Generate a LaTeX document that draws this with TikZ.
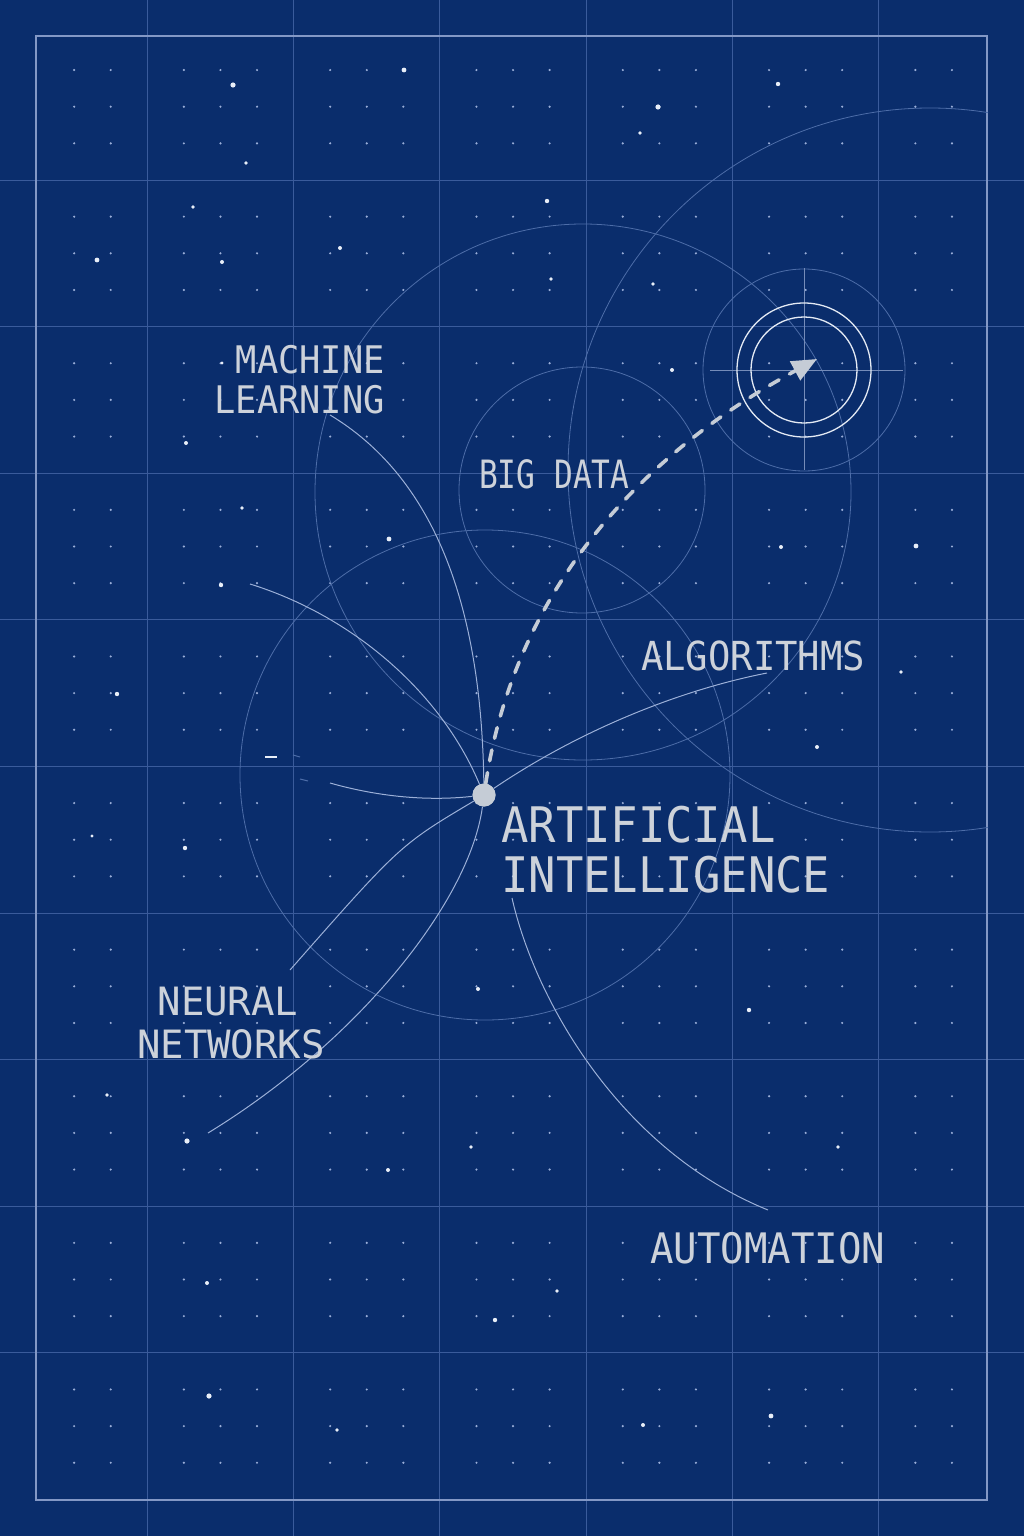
\documentclass[tikz,border=0pt]{standalone}
\usepackage{fontspec}
\usetikzlibrary{arrows.meta}
\newfontfamily\lblfont[FakeStretch=0.93]{DejaVu Sans Mono}
\newfontfamily\narrowfont[FakeStretch=0.80]{DejaVu Sans Mono}
\newfontfamily\widefont{DejaVu Sans Mono}
\definecolor{bgcol}{HTML}{0A2D6C}
\definecolor{gridcol}{HTML}{3A5B9B}
\definecolor{framecol}{HTML}{8398C6}
\definecolor{circcol}{HTML}{4D6DA8}
\definecolor{conncol}{HTML}{9CB0D8}
\definecolor{dotcol}{HTML}{9AAED8}
\definecolor{starcol}{HTML}{E8EEF8}
\definecolor{txtcol}{HTML}{CDD2DA}
\definecolor{dashcol}{HTML}{C5CCD6}
\definecolor{ringcol}{HTML}{E4EAF4}
\begin{document}
\begin{tikzpicture}[x=1pt,y=-1pt,
  gridline/.style={draw=gridcol, line width=1pt},
  frameline/.style={draw=framecol, line width=1.4pt},
  faint/.style={draw=circcol, line width=0.8pt},
  conn/.style={draw=conncol, line width=1pt},
  ring/.style={draw=ringcol, line width=1.3pt},
  hub/.style={circle, fill=dashcol, minimum size=23pt, inner sep=0pt},
  dasharrow/.style={draw=dashcol, line width=3.6pt, line cap=round, dash pattern=on 11pt off 12pt, -{Triangle[length=25pt,width=21pt]}},
  lbl/.style={text=txtcol, inner sep=0pt}
]
\useasboundingbox (0,0) rectangle (1024,1536);
\fill[bgcol] (0,0) rectangle (1024,1536);
% grid
\foreach \k in {1,...,6} \draw[gridline] ({1+146.3*\k},0) -- ({1+146.3*\k},1536);
\foreach \k in {1,...,9} \draw[gridline] (0,{33.4+146.6*\k}) -- (1024,{33.4+146.6*\k});
\draw[frameline] (36,36) rectangle (987,1500);
% minor dots
\foreach \i in {2,...,26}{
  \foreach \j in {1,...,39}{
    \pgfmathtruncatemacro\ma{mod(\i,4)}
    \pgfmathtruncatemacro\mb{mod(\j,4)}
    \ifnum\ma>0 \ifnum\mb>0
      \fill[dotcol] ({1+36.575*\i},{33.4+36.65*\j}) circle[radius=1.2pt];
    \fi\fi
  }
}
% faint construction circles
\draw[faint] (583,492) circle[radius=268pt];
\draw[faint] (582,490) circle[radius=123pt];
\draw[faint] (485,775) circle[radius=245pt];
\begin{scope}
  \clip (36,36) rectangle (988,1500);
  \draw[faint] (930,470) circle[radius=362pt];
\end{scope}
% stars
\foreach \sx/\sy/\sr in {233/85/2.6, 404/70/2.4, 658/107/2.6, 778/84/2.2, 246/163/1.8, 193/207/1.8, 340/248/2, 97/260/2.4, 222/262/2, 547/201/2.2, 640/133/1.8, 551/279/1.8, 653/284/1.8, 222/363/1.6, 186/443/2, 242/508/1.8, 389/539/2.4, 221/585/2.2, 672/370/2, 781/547/2, 916/546/2.4, 117/694/2.2, 901/672/1.8, 817/747/2, 185/848/2.2, 92/836/1.6, 478/989/2, 749/1010/2.2, 838/1147/1.8, 471/1147/1.8, 187/1141/2.6, 388/1170/2, 107/1095/1.8, 557/1291/1.8, 207/1283/2, 495/1320/2.2, 209/1396/2.6, 771/1416/2.4, 643/1425/2, 337/1430/1.8}
  \fill[starcol] (\sx,\sy) circle[radius=\sr pt];
% target
\draw[faint] (804,370) circle[radius=101pt];
\draw[conn, draw=gridcol!70!white] (804,268) -- (804,470);
\draw[conn, draw=gridcol!70!white] (710,370) -- (903,370);
\draw[ring] (804,370) circle[radius=67pt];
\draw[ring] (804,370) circle[radius=53pt];
% hub and free ends
\node[hub] (ai) at (484,795) {};
\coordinate (mlend) at (330,415);
\coordinate (leftA) at (250,584);
\coordinate (leftB) at (330,783);
\coordinate (algend) at (767,673);
\coordinate (nnA) at (290,970);
\coordinate (nnB) at (208,1133);
\coordinate (autA) at (512,898);
\coordinate (autB) at (768,1210);
\coordinate (tip) at (817,359);
% connectors
\draw[conn] (ai) .. controls (482,650) and (455,490) .. (mlend);
\draw[conn] (leftA) .. controls (350,615) and (440,690) .. (ai);
\draw[conn] (leftB) .. controls (390,800) and (440,800) .. (ai);
\draw[conn] (ai) .. controls (580,730) and (680,690) .. (algend);
\draw[conn] (ai) .. controls (400,845) .. (nnA);
\draw[conn] (ai) .. controls (470,900) and (360,1040) .. (nnB);
\draw[conn] (autA) .. controls (535,1000) and (620,1150) .. (autB);
% small marks
\draw[draw=starcol, line width=2pt] (265,757) -- (277,757);
\draw[conn, draw=circcol] (293,755) -- (300,757);
\draw[conn, draw=circcol] (300,779) -- (308,781);
% dashed arrow
\draw[dasharrow] (ai) .. controls (515,590) and (640,455) .. (tip);
\node[hub] (aitop) at (484,795) {};
% labels
\node[lbl, font=\lblfont\fontsize{38}{38}\selectfont, anchor=base east] (ml1) at (385,373) {MACHINE};
\node[lbl, font=\lblfont\fontsize{38}{38}\selectfont, anchor=base east] (ml2) at (385,413) {LEARNING};
\node[lbl, font=\narrowfont\fontsize{39}{39}\selectfont, anchor=base west] (bd) at (479,488) {BIG DATA};
\node[lbl, font=\lblfont\fontsize{40}{40}\selectfont, anchor=base west] (alg) at (641,670) {ALGORITHMS};
\node[lbl, font=\lblfont\fontsize{49}{49}\selectfont, anchor=base west] (ai1) at (501,842) {ARTIFICIAL};
\node[lbl, font=\lblfont\fontsize{49}{49}\selectfont, anchor=base west] (ai2) at (501,892) {INTELLIGENCE};
\node[lbl, font=\widefont\fontsize{39}{39}\selectfont, anchor=base] (nn1) at (228,1015) {NEURAL};
\node[lbl, font=\widefont\fontsize{39}{39}\selectfont, anchor=base] (nn2) at (231,1058) {NETWORKS};
\node[lbl, font=\lblfont\fontsize{42}{42}\selectfont, anchor=base west] (aut) at (650,1263) {AUTOMATION};
\end{tikzpicture}
\end{document}
